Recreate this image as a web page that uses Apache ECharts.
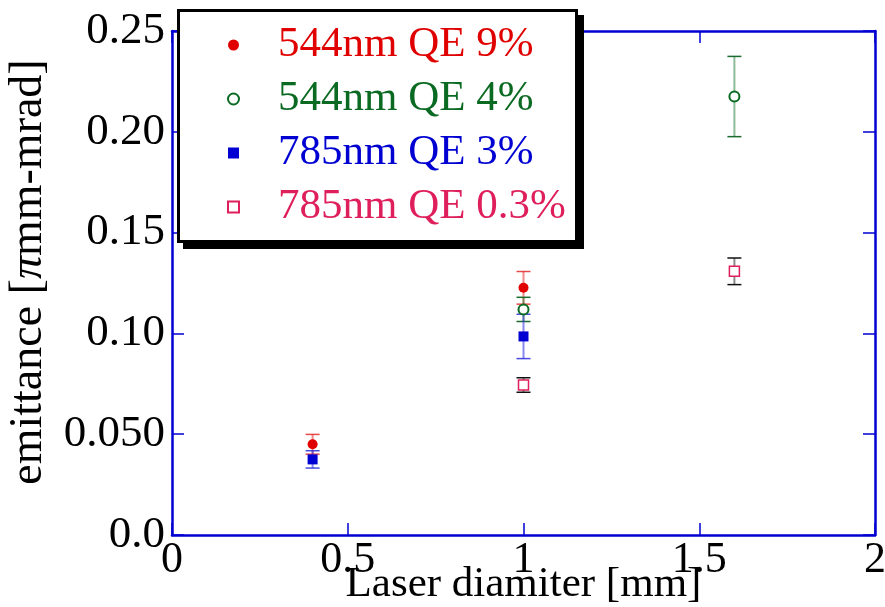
<!DOCTYPE html>
<html>
<head>
<meta charset="utf-8">
<script src="https://cdn.jsdelivr.net/npm/echarts@6/dist/echarts.min.js"></script>
<style>html,body{margin:0;padding:0;background:#fff}#c{width:885px;height:607px}</style>
</head>
<body>
<div id="c"></div>
<script>
var seriesNames = ['544nm QE 9%', '544nm QE 4%', '785nm QE 3%', '785nm QE 0.3%'];
var red9x = [0.4, 1.0];
var red9y = [0.045, 0.1226];
var red9err = [0.0049, 0.0081];
var green4x = [1.0, 1.6];
var green4y = [0.1119, 0.2175];
var green4err = [0.006, 0.0199];
var blue3x = [0.4, 1.0];
var blue3y = [0.0375, 0.0985];
var blue3err = [0.0043, 0.011];
var pink03x = [1.0, 1.6];
var pink03y = [0.0744, 0.1308];
var pink03err = [0.0036, 0.0066];
var yTickLabels = ['0.0', '0.050', '0.10', '0.15', '0.20', '0.25'];
var xTickLabels = ['0', '0.5', '1', '1.5', '2'];

var FONT = '"Liberation Serif", "Times New Roman", serif';
var AX = '#0000d2';
var colors = ['#e00000', '#0b6a22', '#0000d2', '#de1f5b'];
var barLine = ['rgba(230,40,40,0.55)', 'rgba(30,120,50,0.5)', 'rgba(40,40,230,0.55)', 'rgba(60,60,60,0.6)'];
var barCap = ['rgba(225,30,30,0.8)', '#1c6a2e', 'rgba(30,30,215,0.8)', '#111'];

function pts(xs, ys) { return xs.map(function (x, i) { return [x, ys[i]]; }); }
function errPts(xs, ys, es) { return xs.map(function (x, i) { return [x, ys[i] - es[i], ys[i] + es[i]]; }); }

function errSeries(name, data, k) {
  return {
    type: 'custom', name: name, z: 2, silent: true,
    data: data,
    renderItem: function (params, api) {
      var lo = api.coord([api.value(0), api.value(1)]);
      var hi = api.coord([api.value(0), api.value(2)]);
      var w = 7;
      return {
        type: 'group', children: [
          { type: 'line', shape: { x1: lo[0], y1: lo[1], x2: hi[0], y2: hi[1] }, style: { stroke: barLine[k], lineWidth: 2 } },
          { type: 'line', shape: { x1: lo[0] - w, y1: lo[1], x2: lo[0] + w, y2: lo[1] }, style: { stroke: barCap[k], lineWidth: 1.5 } },
          { type: 'line', shape: { x1: hi[0] - w, y1: hi[1], x2: hi[0] + w, y2: hi[1] }, style: { stroke: barCap[k], lineWidth: 1.5 } }
        ]
      };
    }
  };
}

var chart = echarts.init(document.getElementById('c'), null, { renderer: 'canvas' });
var axisCommon = {
  axisLine: { show: true, onZero: false, lineStyle: { color: AX, width: 2.5 } },
  axisTick: { show: true, inside: true, length: 12, lineStyle: { color: AX, width: 1.5 } },
  splitLine: { show: false }
};
var option = {
  animation: false,
  backgroundColor: '#ffffff',
  textStyle: { fontFamily: FONT },
  grid: { left: 172, right: 10, top: 31, bottom: 72, containLabel: false, outerBoundsMode: 'none' },
  graphic: [
    { type: 'rect', z: 1, shape: { x: 183, y: 15, width: 401, height: 234 }, style: { fill: '#000' } },
    { type: 'rect', z: 1, shape: { x: 178.5, y: 10.5, width: 398, height: 231 }, style: { fill: '#fff', stroke: '#000', lineWidth: 3 } }
  ],
  xAxis: [
    Object.assign({
      type: 'value', min: 0, max: 2, interval: 0.5, position: 'bottom',
      name: 'Laser diamiter [mm]', nameLocation: 'middle', nameGap: 28, nameMoveOverlap: false,
      nameTextStyle: { fontFamily: FONT, fontSize: 43, color: '#000' },
      axisLabel: { fontFamily: FONT, fontSize: 44, color: '#000', margin: 3,
        formatter: function (v) { return xTickLabels[Math.round(v / 0.5)]; } }
    }, axisCommon),
    Object.assign({
      type: 'value', min: 0, max: 2, interval: 0.5, position: 'top',
      axisLabel: { show: false }
    }, axisCommon)
  ],
  yAxis: [
    Object.assign({
      type: 'value', min: 0, max: 0.25, interval: 0.05, position: 'left',
      name: 'emittance [{pi|π}mm-mrad]', nameLocation: 'middle', nameGap: 120, nameRotate: 90, nameMoveOverlap: false,
      nameTextStyle: { fontFamily: FONT, fontSize: 46, color: '#000', padding: [0, 0, 0, 22],
        rich: { pi: { fontFamily: FONT, fontSize: 46, fontStyle: 'italic', color: '#000' } } },
      axisLabel: { fontFamily: FONT, fontSize: 45, color: '#000', margin: 7,
        formatter: function (v) { return yTickLabels[Math.round(v / 0.05)]; } }
    }, axisCommon),
    Object.assign({
      type: 'value', min: 0, max: 0.25, interval: 0.05, position: 'right',
      axisLabel: { show: false }
    }, axisCommon)
  ],
  legend: {
    orient: 'vertical', left: 177, top: 9, z: 10,
    padding: [14, 16, 12, 50],
    itemGap: 10, itemWidth: 11, itemHeight: 11,
    backgroundColor: 'transparent', borderWidth: 0,
    textStyle: { fontFamily: FONT, fontSize: 43, lineHeight: 44, padding: [0, 0, 0, 34] },
    data: seriesNames.map(function (n, i) {
      return { name: n, textStyle: { color: colors[i], fontFamily: FONT, fontSize: 43 } };
    })
  },
  series: [
    errSeries('err1', errPts(red9x, red9y, red9err), 0),
    errSeries('err2', errPts(green4x, green4y, green4err), 1),
    errSeries('err3', errPts(blue3x, blue3y, blue3err), 2),
    errSeries('err4', errPts(pink03x, pink03y, pink03err), 3),
    { type: 'scatter', name: seriesNames[0], z: 5, data: pts(red9x, red9y), symbol: 'circle', symbolSize: 10,
      itemStyle: { color: colors[0], opacity: 1 } },
    { type: 'scatter', name: seriesNames[1], z: 5, data: pts(green4x, green4y), symbol: 'emptyCircle', symbolSize: 10,
      itemStyle: { color: colors[1], borderColor: colors[1], borderWidth: 1.5, opacity: 1 } },
    { type: 'scatter', name: seriesNames[2], z: 5, data: pts(blue3x, blue3y), symbol: 'rect', symbolSize: 10,
      itemStyle: { color: colors[2], opacity: 1 } },
    { type: 'scatter', name: seriesNames[3], z: 5, data: pts(pink03x, pink03y), symbol: 'rect', symbolSize: 10,
      itemStyle: { color: '#fff', borderColor: colors[3], borderWidth: 1.5, opacity: 1 } }
  ]
};
chart.setOption(option);
</script>
</body>
</html>
